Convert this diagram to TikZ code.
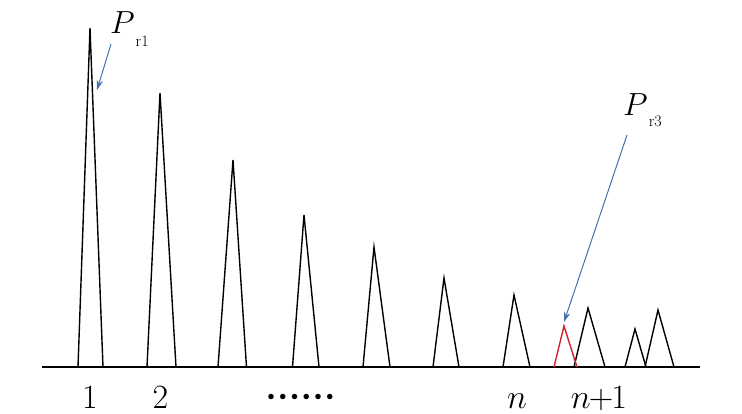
\RequirePackage{fix-cm}
\documentclass[tikz,border=0pt]{standalone}
\usetikzlibrary{arrows.meta}
\definecolor{arrowblue}{RGB}{68,114,176}
\definecolor{peakred}{RGB}{205,35,45}
\newcommand\dotrow{${\bullet}\kern4.8pt{\bullet}\kern4.8pt{\bullet}\kern4.8pt{\bullet}\kern4.8pt{\bullet}\kern4.8pt{\bullet}$}
\begin{document}
\begin{tikzpicture}[x=1pt,y=-1pt,
            peak/.style={line width=1.4pt, line join=miter},
            redpeak/.style={peak, draw=peakred},
            pointer/.style={draw=arrowblue, line width=1pt, -{Stealth[length=10pt,width=6.5pt]}},
            axislabel/.style={anchor=base, inner sep=0pt, font=\fontsize{34}{36}\selectfont},
            peaklabel/.style={anchor=base west, inner sep=0pt, font=\fontsize{32}{34}\selectfont}
            ]
            \useasboundingbox (0,0) rectangle (742,413);
            % baseline
            \draw[line width=2pt] (42,367) -- (700,367);

            % black peaks: left base / apex x / apex y / right base
            \foreach \l/\x/\y/\r in {78/90/28/103, 147/160/93/176, 218/233/160/246.5,
                292.5/304/215/319, 363/374/247/390, 433/444/278/459, 503/514/295/530,
                574/588/308/605, 625/635/329/646, 645/658/310/674}
                \draw[peak] (\l,367) -- (\x,\y) -- (\r,367);
            \draw[redpeak] (554,367) -- (564,326) -- (577,367);

            \node[axislabel] (one) at (90,408) {1};
            \node[axislabel] (two) at (160.5,408) {2};
            \node[axislabel, font=\fontsize{14}{14}\selectfont] (dots) at (300.5,400.5) {\dotrow};
            \node[axislabel] (n) at (517,408) {$n$};
            \node[axislabel] (np1) at (599,408) {$n\mkern-1mu{+}\mkern-1mu1$};

            \node[peaklabel] (pr1) at (110,33.5) {$P$\kern1pt\raisebox{-12.5pt}{\fontsize{16}{16}\selectfont r1}};
            \node[peaklabel] (pr3) at (623,115) {$P$\kern1pt\raisebox{-11pt}{\fontsize{16}{16}\selectfont r3}};

            \coordinate (t1) at (111,44);
            \coordinate (h1) at (97,90);
            \coordinate (t3) at (627,135);
            \coordinate (h3) at (564,322);
            \draw[pointer] (t1) -- (h1);
            \draw[pointer] (t3) -- (h3);
\end{tikzpicture}
\end{document}
